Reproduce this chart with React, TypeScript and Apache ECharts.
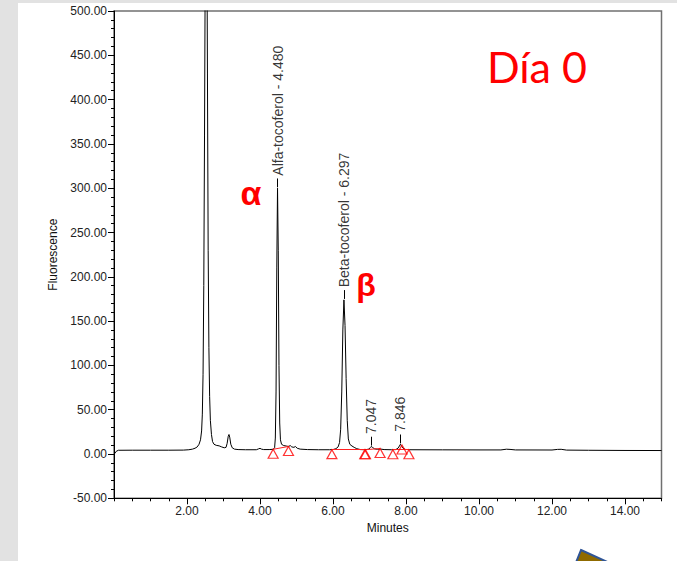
import React, { useEffect, useRef } from 'react';
import * as echarts from 'echarts';

// Chromatogram trace (minutes, fluorescence)
const traceTime = [
  0.02, 0.06, 0.12, 0.5, 1.0, 1.5, 1.9, 2.05, 2.15, 2.22, 2.28, 2.33, 2.37, 2.4, 2.42, 2.44, 2.46, 2.48, 2.5, 2.52,
  2.54, 2.56, 2.58, 2.6, 2.62, 2.64, 2.67, 2.7, 2.74, 2.8, 2.88, 2.95, 3.02, 3.07, 3.1, 3.13, 3.15, 3.17, 3.2, 3.24,
  3.3, 3.4, 3.6, 3.9, 3.96, 4.0, 4.04, 4.1, 4.25, 4.36, 4.4, 4.42, 4.44, 4.46, 4.48, 4.5, 4.52, 4.54, 4.56, 4.59,
  4.65, 4.72, 4.78, 4.83, 4.87, 4.93, 4.97, 5.02, 5.1, 5.3, 5.6, 5.9, 6.0, 6.08, 6.14, 6.18, 6.21, 6.24, 6.27, 6.3,
  6.33, 6.36, 6.39, 6.42, 6.46, 6.52, 6.58, 6.65, 6.75, 6.88, 6.98, 7.02, 7.047, 7.08, 7.14, 7.22, 7.3, 7.4, 7.6, 7.72,
  7.78, 7.82, 7.846, 7.88, 7.92, 7.98, 8.1, 9.0, 10.0, 10.6, 10.75, 10.85, 11.0, 12.0, 12.15, 12.25, 12.4, 13.0, 14.0, 15.0,
];
const traceSignal = [
  0.5, 3, 4.2, 4.3, 4.3, 4.3, 4.4, 4.8, 5.5, 6.5, 8, 11, 16, 26, 45, 90, 190, 360, 560, 720,
  640, 430, 230, 120, 65, 38, 22, 14, 11, 9.8, 9.2, 8, 7, 7.5, 12, 20, 22, 19, 11, 7,
  5.5, 5, 4.8, 4.8, 5.8, 6.4, 5.5, 5, 5, 5.3, 7, 18, 70, 210, 300, 230, 100, 35, 16, 11,
  9.5, 9, 8.5, 9.5, 8, 7.5, 8.5, 6.5, 5.5, 5, 4.8, 4.8, 5, 6, 8, 13, 28, 70, 140, 174,
  145, 85, 38, 17, 11, 9, 7.5, 6, 5, 4.8, 5.5, 7.2, 8.5, 7.5, 5.8, 5.3, 5.6, 5, 4.8, 5,
  6.5, 9, 11, 9, 6.5, 5.2, 4.8, 4.7, 4.6, 4.6, 5.4, 5.2, 4.6, 4.5, 5.2, 5.3, 4.4, 4.2, 4.0, 3.9,
];

// Labelled peaks
const peakTimes = [4.48, 6.297, 7.047, 7.846];
const peakHeights = [300, 174, 8.5, 11];
const peakLabels = ['Alfa-tocoferol - 4.480', 'Beta-tocoferol - 6.297', '7.047', '7.846'];

// Integration markers (red triangles)
const markerTimes = [4.36, 4.78, 5.97, 6.87, 6.89, 7.29, 7.64, 7.89, 8.08];
const markerValues = [5.3, 8.5, 4.9, 4.8, 4.8, 6.2, 4.8, 10.2, 4.8];

// Integration baselines (red segments): [t0, v0, t1, v1]
const baselineSegments = [
  [4.36, 5.3, 4.78, 8.5],
  [5.97, 4.9, 6.88, 4.8],
  [6.88, 4.8, 7.29, 6.2],
  [7.64, 4.8, 8.08, 4.8],
];

// Axes
const xMin = 0;
const xMax = 15;
const xMajor = 2;
const xMinor = 0.5;
const yMin = -50;
const yMax = 500;
const yMajor = 50;

const FONT = '"Liberation Sans", Arial, sans-serif';

export default function App() {
  const ref = useRef<HTMLDivElement>(null);

  useEffect(() => {
    if (!ref.current) return;
    const chart = echarts.init(ref.current, undefined, { renderer: 'svg' });
    const gridRect = { left: 114, top: 11, right: 15.5, bottom: 62.7 };

    const option: any = {
      animation: false,
      backgroundColor: 'transparent',
      grid: [
        { ...gridRect, show: true, borderColor: '#707070', borderWidth: 1.5, backgroundColor: 'transparent', containLabel: false, outerBoundsMode: 'none' },
        { ...gridRect, show: false, containLabel: false, outerBoundsMode: 'none' },
      ],
      xAxis: [
        {
          type: 'value',
          gridIndex: 0,
          min: xMin,
          max: xMax,
          interval: xMajor,
          name: 'Minutes',
          nameLocation: 'middle',
          nameGap: 23,
          nameTextStyle: { fontFamily: FONT, fontSize: 12, color: '#111' },
          axisLine: { show: true, onZero: false, lineStyle: { color: '#000', width: 1 } },
          axisTick: { show: true, length: 6, lineStyle: { color: '#000', width: 1 } },
          axisLabel: {
            show: true,
            margin: 7,
            showMinLabel: false,
            showMaxLabel: false,
            fontFamily: FONT,
            fontSize: 12,
            color: '#222',
            formatter: (v: number) => (v === xMin || v === xMax ? '' : v.toFixed(2)),
          },
          splitLine: { show: false },
        },
        {
          type: 'value',
          gridIndex: 1,
          min: xMin,
          max: xMax,
          interval: xMinor,
          axisLine: { show: false, onZero: false },
          axisTick: { show: true, length: 3, lineStyle: { color: '#000', width: 1 } },
          axisLabel: { show: false },
          splitLine: { show: false },
        },
      ],
      yAxis: [
        {
          type: 'value',
          gridIndex: 0,
          min: yMin,
          max: yMax,
          interval: yMajor,
          name: 'Fluorescence',
          nameLocation: 'middle',
          nameGap: 46,
          nameTextStyle: { fontFamily: FONT, fontSize: 12, color: '#111' },
          axisLine: { show: true, onZero: false, lineStyle: { color: '#000', width: 1 } },
          axisTick: { show: true, length: 6, lineStyle: { color: '#000', width: 1 } },
          minorTick: { show: true, splitNumber: 5, length: 3, lineStyle: { color: '#000', width: 1 } },
          axisLabel: {
            show: true,
            margin: 7,
            fontFamily: FONT,
            fontSize: 12,
            color: '#222',
            formatter: (v: number) => v.toFixed(2),
          },
          splitLine: { show: false },
          minorSplitLine: { show: false },
        },
        { type: 'value', gridIndex: 1, min: yMin, max: yMax, show: false, axisLine: { onZero: false } },
      ],
      series: [
        {
          name: 'trace',
          type: 'line',
          xAxisIndex: 0,
          yAxisIndex: 0,
          data: traceTime.map((t, i) => [t, traceSignal[i]]),
          showSymbol: false,
          symbol: 'none',
          clip: true,
          lineStyle: { color: '#000', width: 1 },
          z: 3,
          silent: true,
        },
        {
          name: 'baselines',
          type: 'lines',
          coordinateSystem: 'cartesian2d',
          xAxisIndex: 0,
          yAxisIndex: 0,
          data: baselineSegments.map((s) => ({ coords: [[s[0], s[1]], [s[2], s[3]]] })),
          lineStyle: { color: '#ff2020', width: 1, opacity: 1 },
          z: 4,
          silent: true,
        },
        {
          name: 'markers',
          type: 'scatter',
          xAxisIndex: 0,
          yAxisIndex: 0,
          data: markerTimes.map((t, i) => [t, markerValues[i]]),
          symbol: 'triangle',
          symbolSize: [10, 9],
          symbolOffset: [0, '50%'],
          itemStyle: { color: 'rgba(255,255,255,0)', borderColor: '#ff0000', borderWidth: 1.2 },
          z: 5,
          silent: true,
        },
        {
          name: 'peaks',
          type: 'scatter',
          xAxisIndex: 0,
          yAxisIndex: 0,
          data: peakTimes.map((t, i) => [t, peakHeights[i]]),
          symbolSize: 1,
          itemStyle: { color: 'rgba(0,0,0,0)' },
          label: {
            show: true,
            position: 'top',
            distance: 12,
            rotate: 90,
            align: 'left',
            verticalAlign: 'middle',
            fontFamily: FONT,
            fontSize: 14,
            color: '#000',
            formatter: (p: any) => peakLabels[p.dataIndex],
          },
          markLine: {
            silent: true,
            symbol: ['none', 'none'],
            label: { show: false },
            lineStyle: { color: '#000', width: 1, type: 'solid' },
            data: peakTimes.map((t, i) => [
              { coord: [t, peakHeights[i] + 1] },
              { coord: [t, peakHeights[i] + 11] },
            ]),
          },
          z: 6,
          silent: true,
        },
      ],
      graphic: [
        {
          type: 'text',
          x: 251,
          y: 193,
          style: { text: 'α', fill: '#ff0000', fontFamily: FONT, fontWeight: 'bold', fontSize: 34, align: 'center', verticalAlign: 'middle' },
          z: 10,
        },
        {
          type: 'text',
          x: 366,
          y: 285,
          style: { text: 'β', fill: '#ff0000', fontFamily: FONT, fontWeight: 'bold', fontSize: 32, align: 'center', verticalAlign: 'middle' },
          z: 10,
        },
        {
          type: 'text',
          x: 487,
          y: 66,
          style: { text: 'Día 0', fill: '#ff0000', fontFamily: 'Lato, "Noto Sans", sans-serif', fontSize: 43, align: 'left', verticalAlign: 'middle' },
          z: 10,
        },
        {
          type: 'polygon',
          shape: { points: [[581, 550], [614, 565], [575, 565]] },
          style: { fill: '#8f6a00', stroke: '#2f5597', lineWidth: 2 },
          z: 10,
        },
      ],
    };

    chart.setOption(option);
    return () => chart.dispose();
  }, []);

  return (
    <div style={{ position: 'fixed', left: 0, top: 0, width: 677, height: 561, background: '#e2e2e2', overflow: 'hidden' }}>
      <div style={{ position: 'absolute', left: 18, top: 3, right: 0, bottom: 0, background: '#ffffff' }} />
      <div ref={ref} style={{ position: 'absolute', left: 0, top: 0, width: 677, height: 561 }} />
    </div>
  );
}
